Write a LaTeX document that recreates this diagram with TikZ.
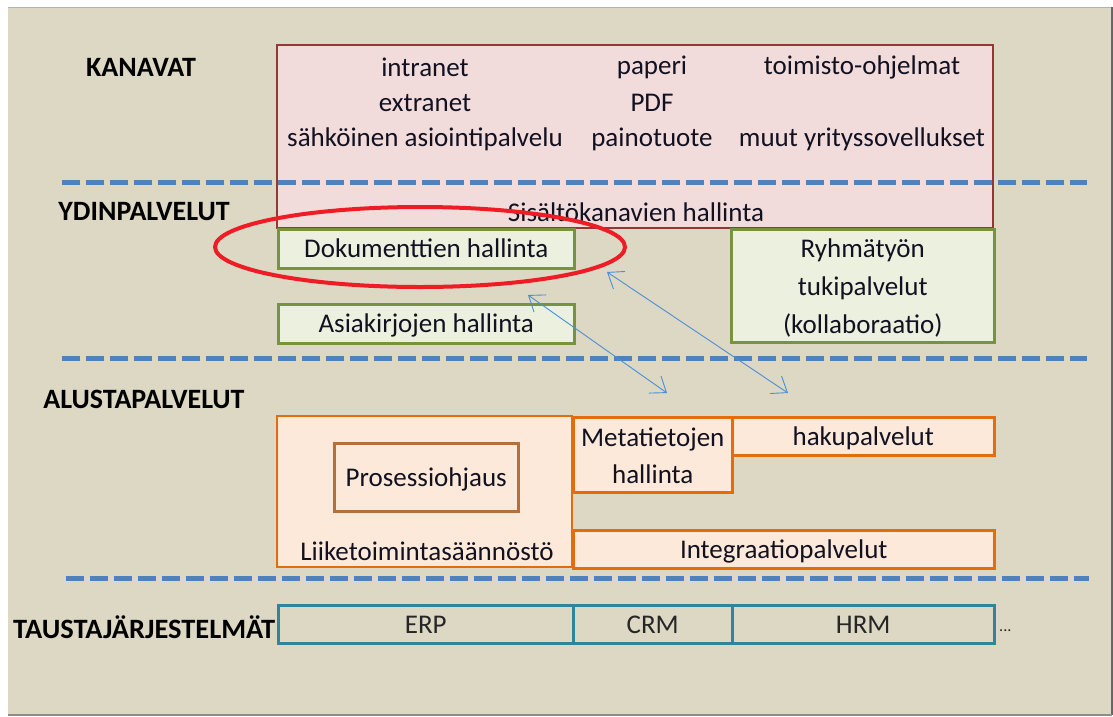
\documentclass[tikz,border=0pt]{standalone}
\usepackage{fontspec}
\setmainfont{Carlito}
\usetikzlibrary{arrows.meta}
\definecolor{bgbeige}{HTML}{DDD8C4}
\definecolor{chanfill}{HTML}{F2DCDB}
\definecolor{chandraw}{HTML}{953735}
\definecolor{corefill}{HTML}{EBF1DE}
\definecolor{coredraw}{HTML}{77933C}
\definecolor{platfill}{HTML}{FDE9D9}
\definecolor{platdraw}{HTML}{E46C0A}
\definecolor{procdraw}{HTML}{B4703C}
\definecolor{backdraw}{HTML}{31849B}
\definecolor{sepblue}{HTML}{4F81BD}
\definecolor{linkblue}{HTML}{4A8FD8}
\definecolor{marker}{HTML}{EE1C25}
\definecolor{txt}{HTML}{111122}
\begin{document}
\begin{tikzpicture}[x=1pt,y=-1pt,
  every node/.style={text=txt, font=\fontsize{27}{32}\selectfont, inner sep=0pt},
  layer/.style={font=\bfseries\fontsize{28}{32}\selectfont, text=black},
  boxtext/.style={text height=20pt, text depth=2pt},
  chanbox/.style={draw=chandraw, fill=chanfill, line width=2.5pt},
  corebox/.style={boxtext, draw=coredraw, fill=corefill, line width=2.5pt, align=center},
  platbox/.style={boxtext, draw=platdraw, fill=platfill, line width=2.5pt, align=center},
  procbox/.style={boxtext, draw=procdraw, fill=platfill, line width=2.5pt},
  backbox/.style={draw=backdraw, line width=2.5pt},
  backtext/.style={boxtext, font=\fontsize{27}{32}\selectfont, text=black!85},
  multitext/.style={align=center, yshift=-2.5pt},
  separator/.style={draw=sepblue, line width=5pt, dash pattern=on 18pt off 6pt},
  link/.style={draw=linkblue, line width=0.9pt, {Straight Barb[length=14pt,width=21pt]}-{Straight Barb[length=14pt,width=21pt]}},
  ring/.style={draw=marker, line width=4pt}
]
\useasboundingbox (0,0) rectangle (1113,716);
% page frame
\fill[white] (0,0) rectangle (1113,716);
\fill[bgbeige] (8,7) rectangle (1112,714);
\draw[gray!60, line width=1pt] (8,7) -- (1112,7);
\draw[black!60, line width=1.5pt] (1112,7) -- (1112,715);
\draw[black!45, line width=2pt] (8,715) -- (1112,715);

% layer titles
\node[layer] (lkan) at (141,67) {KANAVAT};
\node[layer] (lydin) at (144,212) {YDINPALVELUT};
\node[layer] (lalu) at (144,399) {ALUSTAPALVELUT};
\node[layer, anchor=west] (ltaus) at (13,627) {\resizebox{262pt}{\height}{TAUSTAJÄRJESTELMÄT}};

% channels
\draw[chanbox] (277,45) rectangle (993,228);
\node (intranet) at (425,67) {intranet};
\node (extranet) at (425,103) {extranet};
\node (sahk) at (425,139) {sähköinen asiointipalvelu};
\node (paperi) at (652,67) {paperi};
\node (pdf) at (652,103) {PDF};
\node (paino) at (652,139) {painotuote};
\node (toimisto) at (862,67) {toimisto-ohjelmat};
\node (muut) at (862,139) {muut yrityssovellukset};
\node (sisalto) at (636,212) {Sisältökanavien hallinta};

% core services
\node[corebox, minimum width=296pt, minimum height=39pt, anchor=north west] (doku) at (277,228) {Dokumenttien hallinta};
\node[corebox, minimum width=296pt, minimum height=39pt, anchor=north west] (asia) at (277,303) {Asiakirjojen hallinta};
\node[draw=coredraw, fill=corefill, line width=2.5pt, minimum width=263pt, minimum height=113pt, anchor=north west] (ryhma) at (730,228) {};
\node[multitext, font=\fontsize{27}{38}\selectfont] (ryhmatext) at (ryhma.center) {Ryhmätyön\\tukipalvelut\\(kollaboraatio)};

% platform services
\draw[draw=platdraw, fill=platfill, line width=2.5pt] (277,416) rectangle (572,567);
\node (liike) at (427,551) {Liiketoimintasäännöstö};
\node[procbox, minimum width=184pt, minimum height=68pt, anchor=north west] (proses) at (333,442) {Prosessiohjaus};
\node[draw=platdraw, fill=platfill, line width=2.5pt, minimum width=159pt, minimum height=75pt, anchor=north west] (meta) at (572,416) {};
\node[multitext, yshift=1pt, font=\fontsize{27}{37}\selectfont] (metatext) at (meta.center) {Metatietojen\\hallinta};
\node[platbox, minimum width=262pt, minimum height=38pt, anchor=north west] (haku) at (731,416) {hakupalvelut};
\node[platbox, minimum width=421pt, minimum height=38pt, anchor=north west] (integ) at (572,529) {Integraatiopalvelut};

% back-end systems
\node[backbox, minimum width=295pt, minimum height=38pt, anchor=north west] (erp) at (277,604) {};
\node[backbox, minimum width=159pt, minimum height=38pt, anchor=north west] (crm) at (572,604) {};
\node[backbox, minimum width=262pt, minimum height=38pt, anchor=north west] (hrm) at (731,604) {};
\node[backtext] at (erp.center) {ERP};
\node[backtext] at (crm.center) {CRM};
\node[backtext] at (hrm.center) {HRM};
\node[text=black!85, anchor=west] (more) at (999,631) {\scalebox{0.6}{...}};

% layer separators
\draw[separator] (62,182) -- (1087,182);
\draw[separator] (62,358) -- (1087,358);
\draw[separator] (66,578) -- (1089,578);

% highlight around document management
\draw[ring] (420,247) ellipse [x radius=205, y radius=40];

% links between core and platform services
\coordinate (d1) at (528,295);
\coordinate (p1) at (667,393);
\coordinate (d2) at (607,272);
\coordinate (p2) at (788,393);
\draw[link] (d1) -- (p1);
\draw[link] (d2) -- (p2);
\end{tikzpicture}
\end{document}
